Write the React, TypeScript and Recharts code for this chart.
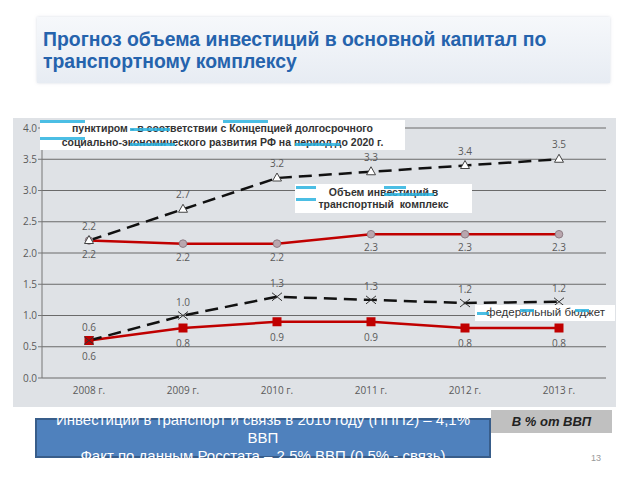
import { CartesianGrid, LabelList, Line, LineChart, XAxis, YAxis } from "recharts";

const years = ["2008 г.", "2009 г.", "2010 г.", "2011 г.", "2012 г.", "2013 г."];
const conceptTotal = [2.2, 2.7, 3.2, 3.3, 3.4, 3.5];
const conceptTotalLabels = ["2.2", "2.7", "3.2", "3.3", "3.4", "3.5"];
const total = [2.2, 2.15, 2.15, 2.3, 2.3, 2.3];
const totalLabels = ["2.2", "2.2", "2.2", "2.3", "2.3", "2.3"];
const conceptFederal = [0.6, 1.0, 1.3, 1.25, 1.2, 1.22];
const conceptFederalLabels = ["0.6", "1.0", "1.3", "1.3", "1.2", "1.2"];
const federal = [0.6, 0.8, 0.9, 0.9, 0.8, 0.8];
const federalLabels = ["0.6", "0.8", "0.9", "0.9", "0.8", "0.8"];
const yTicks = [0, 0.5, 1, 1.5, 2, 2.5, 3, 3.5, 4];
const edgeTicks = [0, 1, 2, 3, 4, 5, 6];

const data = years.map((year, i) => ({
  year,
  conceptTotal: conceptTotal[i],
  conceptTotalLbl: conceptTotalLabels[i],
  total: total[i],
  totalLbl: totalLabels[i],
  conceptFederal: conceptFederal[i],
  conceptFederalLbl: conceptFederalLabels[i],
  federal: federal[i],
  federalLbl: federalLabels[i],
}));

const labelFont = { fontSize: 10, fill: "#5a5a5a", fontFamily: "Open Sans" };
const cyan = "#2bb3df";

function TriangleDot({ cx, cy }: any) {
  if (cx == null || cy == null) return null;
  return <path d={`M${cx},${cy - 5} L${cx + 4.5},${cy + 3} L${cx - 4.5},${cy + 3} Z`} fill="#fff" stroke="#444" strokeWidth={1} />;
}

function CrossDot({ cx, cy }: any) {
  if (cx == null || cy == null) return null;
  return (
    <g stroke="#333" strokeWidth={1}>
      <line x1={cx - 5} y1={cy - 4} x2={cx + 5} y2={cy + 4} />
      <line x1={cx - 5} y1={cy + 4} x2={cx + 5} y2={cy - 4} />
    </g>
  );
}

function CircleDot({ cx, cy }: any) {
  if (cx == null || cy == null) return null;
  return <circle cx={cx} cy={cy} r={3.8} fill="#b9a6ae" stroke="#8d7c84" strokeWidth={1} />;
}

function SquareDot({ cx, cy }: any) {
  if (cx == null || cy == null) return null;
  return <rect x={cx - 4.5} y={cy - 4.5} width={9} height={9} fill="#c00000" />;
}

function Bar({ x, y, w }: { x: number; y: number; w: number }) {
  return <div style={{ position: "absolute", left: x, top: y, width: w, height: 3, background: cyan, opacity: 0.85 }} />;
}

export default function App() {
  return (
    <div style={{ position: "fixed", left: 0, top: 0, width: 640, height: 480, background: "#fff", overflow: "hidden", fontFamily: "'Liberation Sans', Arial, sans-serif" }}>
      <div
        style={{
          position: "absolute",
          left: 37,
          top: 17,
          width: 573,
          height: 66,
          background: "linear-gradient(to bottom, #f6f8fb 0%, #e7ecf3 100%)",
          boxShadow: "0 0 3px rgba(160,170,190,0.4)",
        }}
      >
        <div style={{ position: "absolute", left: 6, top: 11, fontSize: 19.4, fontWeight: "bold", color: "#2563ad", lineHeight: "22px", whiteSpace: "nowrap" }}>
          Прогноз объема инвестиций в основной капитал по
          <br />
          транспортному комплексу
        </div>
      </div>

      <div style={{ position: "absolute", left: 13, top: 118, width: 603, height: 289, background: "#dfe2e6" }}>
        <LineChart width={603} height={289} data={data} margin={{ top: 10, right: 10, left: 0, bottom: 0 }}>
          <CartesianGrid vertical={false} stroke="#6a6a6a" strokeWidth={1} />
          <XAxis
            xAxisId="edge"
            type="number"
            domain={[0, 6]}
            ticks={edgeTicks}
            height={0}
            axisLine={{ stroke: "#777" }}
            tickLine={{ stroke: "#777" }}
            tickSize={4}
            tickFormatter={() => ""}
          />
          <XAxis
            xAxisId="cat"
            dataKey="year"
            height={29}
            padding={{ left: 47, right: 47 }}
            axisLine={false}
            tickLine={false}
            tick={labelFont}
            tickMargin={3}
          />
          <YAxis
            domain={[0, 4]}
            ticks={yTicks}
            width={29}
            axisLine={{ stroke: "#777" }}
            tickLine={{ stroke: "#777" }}
            tickSize={4}
            tick={labelFont}
            tickMargin={1}
            tickFormatter={(v: number) => v.toFixed(1)}
          />
          <Line xAxisId="cat" dataKey="total" stroke="#c00000" strokeWidth={2.5} dot={<CircleDot />} isAnimationActive={false}>
            <LabelList dataKey="totalLbl" position="bottom" offset={10} style={labelFont} />
          </Line>
          <Line xAxisId="cat" dataKey="conceptTotal" stroke="#111" strokeWidth={2.5} strokeDasharray="13 7" dot={<TriangleDot />} isAnimationActive={false}>
            <LabelList dataKey="conceptTotalLbl" position="top" offset={11} style={labelFont} />
          </Line>
          <Line xAxisId="cat" dataKey="federal" stroke="#c00000" strokeWidth={2.5} dot={<SquareDot />} isAnimationActive={false}>
            <LabelList dataKey="federalLbl" position="bottom" offset={12} style={labelFont} />
          </Line>
          <Line xAxisId="cat" dataKey="conceptFederal" stroke="#111" strokeWidth={2.5} strokeDasharray="13 7" dot={<CrossDot />} isAnimationActive={false}>
            <LabelList dataKey="conceptFederalLbl" position="top" offset={10} style={labelFont} />
          </Line>
        </LineChart>
      </div>

      <div style={{ position: "absolute", left: 40, top: 120, width: 365, height: 30, background: "#fff" }} />
      <div style={{ position: "absolute", left: 40, top: 121, width: 365, textAlign: "center", fontSize: 10.5, fontWeight: "bold", color: "#333", lineHeight: "14px" }}>
        пунктиром - в соответствии с Концепцией долгосрочного
        <br />
        социально-экономического развития РФ на период до 2020 г.
      </div>
      <Bar x={40} y={120} w={45} />
      <Bar x={40} y={137} w={45} />
      <Bar x={130} y={128} w={40} />
      <Bar x={130} y={143} w={45} />
      <Bar x={223} y={120} w={45} />
      <Bar x={295} y={143} w={45} />

      <div style={{ position: "absolute", left: 295, top: 184, width: 177, height: 29, background: "#fff" }} />
      <div style={{ position: "absolute", left: 295, top: 186, width: 177, textAlign: "center", fontSize: 10.5, fontWeight: "bold", color: "#333", lineHeight: "12px" }}>
        Объем инвестиций в
        <br />
        транспортный&nbsp; комплекс
      </div>
      <Bar x={296} y={186} w={20} />
      <Bar x={296} y={198} w={20} />
      <Bar x={384} y={186} w={22} />
      <Bar x={384} y={193} w={50} />

      <div style={{ position: "absolute", left: 475, top: 305, width: 140, height: 16, background: "#fff" }} />
      <div style={{ position: "absolute", left: 486, top: 305, fontSize: 11.5, color: "#333", lineHeight: "15px" }}>федеральный бюджет</div>
      <Bar x={477} y={312} w={12} />
      <Bar x={520} y={309} w={14} />
      <Bar x={575} y={309} w={14} />

      <div
        style={{
          position: "absolute",
          left: 35,
          top: 418,
          width: 452,
          height: 36,
          background: "#4f81bd",
          border: "2px solid #385d8a",
        }}
      >
        <div style={{ position: "absolute", left: 0, top: -9, width: 452, textAlign: "center", fontSize: 15, color: "#fff", lineHeight: "18px", whiteSpace: "nowrap" }}>
          Инвестиции в транспорт и связь в 2010 году (ППП2) – 4,1%
          <br />
          ВВП
          <br />
          Факт по данным Росстата – 2,5% ВВП (0,5% - связь)
        </div>
      </div>

      <div style={{ position: "absolute", left: 491, top: 410, width: 121, height: 23, background: "#c0c0c0", textAlign: "center", lineHeight: "23px", fontSize: 13, fontWeight: "bold", fontStyle: "italic", color: "#222" }}>
        В % от ВВП
      </div>
      <div style={{ position: "absolute", left: 591, top: 453, fontSize: 9, color: "#999" }}>13</div>
    </div>
  );
}
